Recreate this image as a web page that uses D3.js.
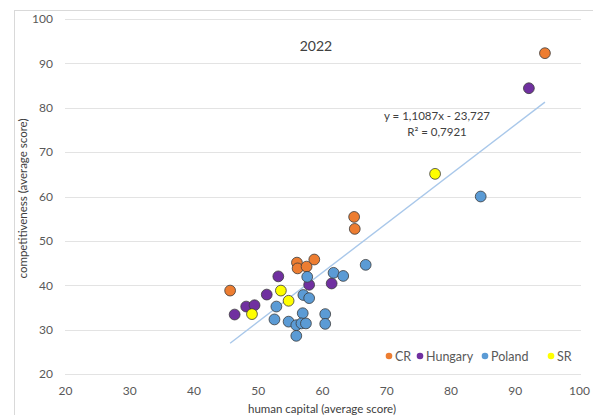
<!DOCTYPE html>
<html>
<head>
<meta charset="utf-8">
<script src="https://cdn.jsdelivr.net/npm/d3@7"></script>
<style>
  html, body { margin: 0; padding: 0; background: #fff; }
  svg { display: block; }
  text { font-family: Lato, "Open Sans", sans-serif; }
</style>
</head>
<body>
<svg id="chart" width="593" height="415"></svg>
<script>
// ---- data ----
const seriesNames = ["CR", "Hungary", "Poland", "SR"];
const seriesColors = ["#ED7D31", "#7030A0", "#5B9BD5", "#FFFF00"];

const crX = [45.7, 56.1, 56.2, 57.6, 58.8, 65.0, 65.1, 94.7];
const crY = [38.8, 45.1, 43.8, 44.2, 45.8, 55.4, 52.7, 92.3];

const huX = [53.2, 58.0, 61.5, 51.4, 48.2, 49.5, 46.4, 92.2];
const huY = [42.0, 40.1, 40.4, 37.9, 35.2, 35.5, 33.4, 84.4];

const plX = [57.7, 61.8, 63.3, 66.8, 57.1, 58.0, 52.9, 52.6, 54.8, 57.0, 56.0, 56.8, 57.5, 60.5, 60.5, 56.0, 84.7];
const plY = [41.9, 42.8, 42.1, 44.6, 37.8, 37.1, 35.2, 32.3, 31.8, 33.7, 31.0, 31.4, 31.4, 33.5, 31.3, 28.6, 60.0];

const srX = [53.6, 54.8, 49.1, 77.6];
const srY = [38.8, 36.5, 33.5, 65.1];

const xTicks = [20, 30, 40, 50, 60, 70, 80, 90, 100];
const yTicks = [20, 30, 40, 50, 60, 70, 80, 90, 100];

const trendSlope = 1.1087;
const trendIntercept = -23.727;
const equationLines = ["y = 1,1087x - 23,727", "R² = 0,7921"];
const titleText = "2022";
const xTitle = "human capital (average score)";
const yTitle = "competitiveness (average score)";

// ---- drawing ----
const svg = d3.select("#chart");
const x = d3.scaleLinear().domain([20, 100]).range([65, 579]);
const y = d3.scaleLinear().domain([20, 100]).range([374, 19]);

// chart border (only left/top visible)
svg.append("rect")
  .attr("x", 14.5).attr("y", 10.5)
  .attr("width", 620).attr("height", 430)
  .attr("fill", "none").attr("stroke", "#d9d9d9").attr("stroke-width", 1);

// horizontal gridlines
svg.append("g").selectAll("line").data(yTicks).join("line")
  .attr("x1", x(20)).attr("x2", x(100) + 2)
  .attr("y1", d => Math.round(y(d)) + 0.5).attr("y2", d => Math.round(y(d)) + 0.5)
  .attr("stroke", "#e3e3e3").attr("stroke-width", 1);

// y axis tick labels
const yAxis = d3.axisLeft(y).tickValues(yTicks).tickSize(0).tickPadding(0).tickFormat(d3.format("d"));
svg.append("g").attr("transform", "translate(53,0)").call(yAxis)
  .call(g => g.select(".domain").remove())
  .call(g => g.selectAll("text").attr("fill", "#595959").style("font-size", "12px").style("font-family", "Lato, sans-serif"));

// x axis tick labels
const xAxis = d3.axisBottom(x).tickValues(xTicks).tickSize(0).tickPadding(0).tickFormat(d3.format("d"));
svg.append("g").attr("transform", "translate(0,386)").call(xAxis)
  .call(g => g.select(".domain").remove())
  .call(g => g.selectAll("text").attr("fill", "#595959").style("font-size", "12px").style("font-family", "Lato, sans-serif"));

// title
svg.append("text").attr("x", 316).attr("y", 51).attr("text-anchor", "middle")
  .attr("fill", "#404040").style("font-size", "14px").text(titleText);

// axis titles
svg.append("text").attr("x", 322).attr("y", 413).attr("text-anchor", "middle")
  .attr("fill", "#404040").style("font-size", "11.5px").text(xTitle);
svg.append("text")
  .attr("transform", `translate(27,${(y(20) + y(100)) / 2 + 2}) rotate(-90)`)
  .attr("text-anchor", "middle")
  .attr("fill", "#404040").style("font-size", "11.5px").text(yTitle);

// trend line
const allX = crX.concat(huX, plX, srX);
const xMin = d3.min(allX), xMax = d3.max(allX);
const line = d3.line().x(d => x(d)).y(d => y(trendSlope * d + trendIntercept));
svg.append("path").datum([xMin, xMax]).attr("d", line)
  .attr("fill", "none").attr("stroke", "#A9C8EA").attr("stroke-width", 1.4);

// equation label
svg.append("g").selectAll("text").data(equationLines).join("text")
  .attr("x", 437).attr("y", (d, i) => 120 + i * 16)
  .attr("text-anchor", "middle").attr("fill", "#404040")
  .style("font-size", "11.5px").text(d => d);

// points
const series = [
  { name: seriesNames[0], xs: crX, ys: crY, color: seriesColors[0] },
  { name: seriesNames[1], xs: huX, ys: huY, color: seriesColors[1] },
  { name: seriesNames[2], xs: plX, ys: plY, color: seriesColors[2] },
  { name: seriesNames[3], xs: srX, ys: srY, color: seriesColors[3] }
];
series.forEach(s => {
  svg.append("g").selectAll("circle").data(s.xs.map((v, i) => [v, s.ys[i]])).join("circle")
    .attr("cx", d => x(d[0])).attr("cy", d => y(d[1])).attr("r", 5.4)
    .attr("fill", s.color).attr("stroke", "#3b3b3b").attr("stroke-width", 0.8);
});

// legend
const legendX = [389, 420, 485, 551];
const lg = svg.append("g");
series.forEach((s, i) => {
  lg.append("circle").attr("cx", legendX[i]).attr("cy", 356).attr("r", 3.3).attr("fill", s.color);
  lg.append("text").attr("x", legendX[i] + 6).attr("y", 360.5)
    .attr("fill", "#595959").style("font-size", "12.5px").text(s.name);
});
</script>
</body>
</html>
